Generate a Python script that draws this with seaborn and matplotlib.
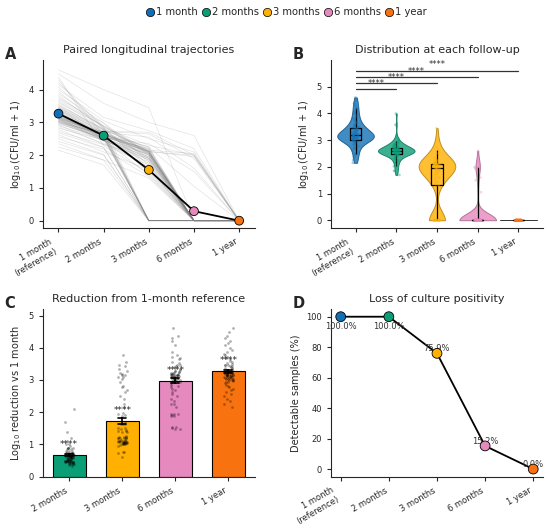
import numpy as np
import pandas as pd
import seaborn as sns
import matplotlib.pyplot as plt
from matplotlib.lines import Line2D

# timepoints and colours
timepoints = ["1 month", "2 months", "3 months", "6 months", "1 year"]
tick_labels = ["1 month\n(reference)", "2 months", "3 months", "6 months", "1 year"]
palette = ["#1170B5", "#0A9E76", "#FFB000", "#E689BE", "#F8730F"]

# log10(CFU/ml + 1) per sample (paired, 79 samples)
log_1m = [2.15, 2.25, 2.35, 2.42, 2.5, 2.56, 2.62, 2.68, 2.72, 2.78, 2.82, 2.86, 2.9, 2.93, 2.95, 2.97, 2.99, 3.0, 3.01, 3.02,
          3.03, 3.04, 3.05, 3.06, 3.07, 3.08, 3.09, 3.1, 3.1, 3.11, 3.12, 3.13, 3.14, 3.14, 3.15, 3.15, 3.16, 3.17, 3.17, 3.18,
          3.19, 3.2, 3.21, 3.22, 3.23, 3.24, 3.26, 3.27, 3.29, 3.3, 3.32, 3.34, 3.36, 3.38, 3.4, 3.42, 3.44, 3.45, 3.46, 3.48,
          3.5, 3.53, 3.56, 3.6, 3.64, 3.68, 3.72, 3.77, 3.82, 3.88, 3.94, 4.0, 4.08, 4.15, 4.22, 4.3, 4.38, 4.48, 4.6]
log_2m = [1.70, 1.85, 1.85, 2.00, 2.02, 2.18, 2.10, 2.23, 2.32, 2.23, 2.46, 2.36, 2.46, 2.33, 2.53, 2.50, 2.66, 2.50, 2.43, 2.62,
          2.53, 2.49, 2.60, 2.46, 2.59, 2.56, 2.44, 2.68, 2.52, 2.61, 2.50, 2.66, 2.59, 2.44, 2.65, 2.70, 2.56, 2.64, 2.51, 2.68,
          2.59, 2.65, 2.56, 2.52, 2.65, 2.62, 2.51, 2.67, 2.61, 2.58, 2.68, 2.54, 2.66, 2.72, 2.55, 2.70, 2.54, 2.77, 2.68, 2.73,
          2.80, 2.78, 2.76, 2.90, 2.79, 2.88, 2.97, 2.87, 2.82, 2.98, 2.84, 3.05, 2.88, 3.15, 2.82, 2.60, 2.28, 3.58, 4.00]
log_3m = [0, 0, 1.3, 0, 0, 1.35, 1.55, 0, 1.7, 0, 1.4, 1.8, 1.85, 1.9, 1.75, 1.95, 1.95, 1.9, 1.6, 2.25,
          2.02, 0, 2.1, 1.85, 2.05, 0, 1.95, 2.12, 0, 2.0, 1.6, 2.08, 0, 2.03, 2.1, 2.55, 0, 2.06, 1.9, 2.11,
          0, 2.08, 2.12, 2.0, 0, 2.15, 2.05, 0, 2.18, 2.1, 2.25, 0, 2.14, 2.65, 2.2, 0, 2.35, 2.22, 0, 2.7,
          2.1, 1.9, 0, 2.15, 1.7, 2.05, 1.8, 0, 2.12, 2.0, 2.3, 2.5, 2.1, 2.75, 1.6, 1.5, 1.45, 3.0, 3.45]
log_6m = [0, 0, 0, 0, 0, 0, 0, 0, 0, 0, 0, 0, 0, 0, 0, 0, 0, 0, 0, 0,
          0, 0, 0, 0, 0, 0, 0, 0, 0, 0, 0, 0, 0, 0, 0, 1.6, 0, 0, 0, 0,
          0, 0, 0, 0, 0, 0, 0, 0, 0, 0, 1.05, 0, 0, 1.9, 0, 0, 1.5, 0, 0, 2.0,
          2.0, 0, 0, 2.05, 0, 0, 0, 0, 1.95, 0, 2.0, 2.1, 0, 2.2, 0, 0, 0, 2.6, 0]
log_1y = [0.0] * 79

series = [log_1m, log_2m, log_3m, log_6m, log_1y]
rows = []
for i, (tp, vals) in enumerate(zip(timepoints, series)):
    for s, v in enumerate(vals):
        rows.append({"sample": s, "timepoint": tp, "pos": i, "value": v})
df = pd.DataFrame(rows)

red_rows = []
for tp, vals in zip(timepoints[1:], series[1:]):
    for s, v in enumerate(vals):
        red_rows.append({"timepoint": tp, "reduction": log_1m[s] - v})
red = pd.DataFrame(red_rows)

sns.set_style("ticks")
plt.rcParams["font.family"] = ["DejaVu Sans"]

fig = plt.figure(figsize=(5.5, 5.32), dpi=100)
axA = fig.add_axes([0.0776, 0.571, 0.386, 0.316])
axB = fig.add_axes([0.602, 0.571, 0.385, 0.316])
axC = fig.add_axes([0.0776, 0.104, 0.386, 0.315])
axD = fig.add_axes([0.602, 0.104, 0.385, 0.315])

tick_fs = 6
lab_fs = 7
title_fs = 8

# A. paired trajectories
sns.lineplot(data=df, x="pos", y="value", units="sample", estimator=None,
             color="gray", alpha=0.22, lw=0.5, ax=axA)
means = df.groupby("pos")["value"].mean().reset_index()
means["timepoint"] = timepoints
sns.lineplot(data=means, x="pos", y="value", color="black", lw=1.3, ax=axA)
sns.scatterplot(data=means, x="pos", y="value", hue="timepoint", palette=palette,
                s=40, edgecolor="black", linewidth=0.6, zorder=5, legend=False, ax=axA)
axA.set_xlim(-0.35, 4.35)
axA.set_ylim(-0.23, 4.9)
axA.set_title("Paired longitudinal trajectories", fontsize=title_fs, pad=5)
axA.set_ylabel(r"$\log_{10}$(CFU/ml + 1)", fontsize=lab_fs)
axA.set_xlabel("")

# B. distributions
sns.violinplot(data=df, x="timepoint", y="value", hue="timepoint", order=timepoints,
               palette=palette, cut=0, inner=None, density_norm="width", width=0.9,
               bw_adjust=0.85, saturation=1, linewidth=0.7, alpha=0.8, legend=False, ax=axB)
for coll, c in zip(axB.collections, palette):
    coll.set_edgecolor([x * 0.7 for x in plt.matplotlib.colors.to_rgb(c)])
sns.stripplot(data=df, x="timepoint", y="value", hue="timepoint", order=timepoints,
              palette=palette, size=2, alpha=0.35, jitter=0.08, legend=False, ax=axB)
sns.boxplot(data=df, x="timepoint", y="value", order=timepoints, width=0.28, fill=False,
            color="black", linecolor="black", whis=(5, 95), showfliers=False,
            showcaps=False, linewidth=0.9, ax=axB)
bar_y = [4.9, 5.13, 5.36, 5.59]
for j, y in zip(range(1, 5), bar_y):
    axB.plot([0, j], [y, y], color="#333333", lw=0.9)
    axB.text(j / 2, y + 0.06, "****", ha="center", va="bottom", fontsize=6, color="#333333")
axB.set_xlim(-0.6, 4.6)
axB.set_ylim(-0.3, 6.0)
axB.set_yticks([0, 1, 2, 3, 4, 5])
axB.set_title("Distribution at each follow-up", fontsize=title_fs, pad=5)
axB.set_ylabel(r"$\log_{10}$(CFU/ml + 1)", fontsize=lab_fs)
axB.set_xlabel("")

# C. reduction from reference
sns.barplot(data=red, x="timepoint", y="reduction", hue="timepoint", palette=palette[1:],
            errorbar="se", capsize=0.15, err_kws={"color": "black", "linewidth": 1.2},
            edgecolor="black", linewidth=0.8, width=0.62, saturation=1, legend=False, ax=axC)
sns.stripplot(data=red, x="timepoint", y="reduction", color="black", size=2, alpha=0.3,
              jitter=0.09, ax=axC)
red_stats = red.groupby("timepoint", sort=False)["reduction"].agg(["mean", "sem"])
for k, tp in enumerate(timepoints[1:]):
    m = red_stats.loc[tp, "mean"]
    axC.text(k, m + 0.33, "****", ha="center", va="center", fontsize=6.5, color="#222222")
axC.set_ylim(0, 5.2)
axC.set_xlim(-0.5, 3.5)
axC.set_title("Reduction from 1-month reference", fontsize=title_fs, pad=5)
axC.set_ylabel(r"Log$_{10}$ reduction vs 1 month", fontsize=lab_fs)
axC.set_xlabel("")

# D. culture positivity
pos_df = df.assign(detect=df["value"] > 0).groupby("pos")["detect"].mean().mul(100).reset_index()
pos_df["timepoint"] = timepoints
sns.lineplot(data=pos_df, x="pos", y="detect", color="black", lw=1.3, ax=axD)
sns.scatterplot(data=pos_df, x="pos", y="detect", hue="timepoint", palette=palette,
                s=50, edgecolor="black", linewidth=0.6, zorder=5, legend=False, ax=axD)
for x, v in zip(pos_df["pos"], pos_df["detect"]):
    yy = v - 6.5 if v > 95 else v + 3
    axD.text(x, yy, f"{v:.1f}%", ha="center", va="center", fontsize=6, color="#333333", zorder=3)
axD.set_ylim(-5, 105)
axD.set_xlim(-0.2, 4.2)
axD.set_title("Loss of culture positivity", fontsize=title_fs, pad=5)
axD.set_ylabel("Detectable samples (%)", fontsize=lab_fs)
axD.set_xlabel("")

for ax in [axA, axB, axD]:
    ax.set_xticks(range(5))
    ax.set_xticklabels(tick_labels, rotation=30, ha="right", fontsize=tick_fs)
axC.set_xticks(range(4))
axC.set_xticklabels(timepoints[1:], rotation=30, ha="right", fontsize=tick_fs)

for ax, letter in zip([axA, axB, axC, axD], "ABCD"):
    ax.tick_params(labelsize=tick_fs, length=3, width=0.8)
    ax.text(-0.18, 0.99, letter, transform=ax.transAxes, fontsize=10.5,
            fontweight="bold", ha="left", va="bottom")
    sns.despine(ax=ax)

handles = [Line2D([], [], marker="o", ls="", markerfacecolor=c, markeredgecolor="black",
                  markeredgewidth=0.5, markersize=6) for c in palette]
fig.legend(handles, timepoints, loc="upper center", bbox_to_anchor=(0.52, 1.0), ncol=5,
           frameon=False, fontsize=7.2, handletextpad=0.1, columnspacing=0.3,
           handlelength=1.0, borderaxespad=0.3)

fig.savefig("out.png", dpi=100)
